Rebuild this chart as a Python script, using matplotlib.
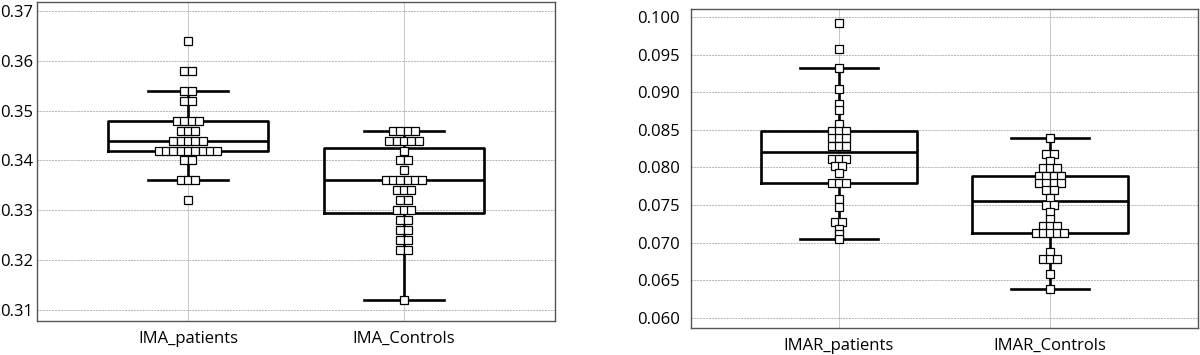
import numpy as np
import matplotlib
matplotlib.use('Agg')
import matplotlib.pyplot as plt
from matplotlib.ticker import FormatStrFormatter

plt.rcParams['font.family'] = ['Open Sans', 'DejaVu Sans']

# values, one entry per square
ima_patients = [0.364, 0.358, 0.358, 0.354, 0.354, 0.352, 0.352,
                0.348, 0.348, 0.348, 0.348, 0.346, 0.346, 0.346,
                0.344, 0.344, 0.344, 0.344, 0.344,
                0.342, 0.342, 0.342, 0.342, 0.342, 0.342, 0.342, 0.342, 0.342,
                0.340, 0.340, 0.336, 0.336, 0.336, 0.332]
ima_controls = [0.346, 0.346, 0.346, 0.346, 0.344, 0.344, 0.344, 0.344, 0.344,
                0.342, 0.340, 0.340, 0.338,
                0.336, 0.336, 0.336, 0.336, 0.336, 0.336,
                0.334, 0.334, 0.334, 0.332, 0.332, 0.330, 0.330, 0.330,
                0.328, 0.328, 0.326, 0.326, 0.324, 0.324, 0.322, 0.322, 0.312]
imar_patients = [0.0992, 0.0957, 0.0932, 0.0904, 0.0885, 0.0876, 0.0858,
                 0.0848, 0.0848, 0.0848, 0.0839, 0.0839, 0.0839,
                 0.0829, 0.0829, 0.0829, 0.0811, 0.0811, 0.0811,
                 0.0802, 0.0802, 0.0793, 0.0779, 0.0779, 0.0779,
                 0.0758, 0.0747, 0.0727, 0.0727, 0.0718, 0.0711, 0.0705]
imar_controls = [0.0839, 0.0818, 0.0818, 0.0809, 0.0799, 0.0799, 0.0799,
                 0.0789, 0.0789, 0.0789, 0.0789, 0.0780, 0.0780, 0.0780, 0.0780,
                 0.0770, 0.0770, 0.0760, 0.0750, 0.0750, 0.0741, 0.0732,
                 0.0722, 0.0722, 0.0722, 0.0713, 0.0713, 0.0713, 0.0713, 0.0713,
                 0.0688, 0.0679, 0.0679, 0.0679, 0.0659, 0.0638]

left_labels = ['IMA_patients', 'IMA_Controls']
right_labels = ['IMAR_patients', 'IMAR_Controls']
left_ticks = [0.31, 0.32, 0.33, 0.34, 0.35, 0.36, 0.37]
right_ticks = [0.060, 0.065, 0.070, 0.075, 0.080, 0.085, 0.090, 0.095, 0.100]


def swarm_offsets(vals, step):
    # put equal values side by side, centred on the category
    vals = np.asarray(vals)
    offs = np.zeros(len(vals))
    for v in np.unique(vals):
        idx = np.where(vals == v)[0]
        offs[idx] = (np.arange(len(idx)) - (len(idx) - 1) / 2) * step
    return offs


def panel(ax, groups, labels, ticks, ylim, fmt, ypad):
    line = dict(color='black', linewidth=1.9)
    ax.boxplot(groups, positions=[0, 1], widths=0.74, capwidths=0.37,
               showfliers=False, whis=1.5,
               boxprops=line, medianprops=line, whiskerprops=line, capprops=line)
    for i, g in enumerate(groups):
        ax.plot(i + swarm_offsets(g, 0.034), g, 's', ms=5.4, mfc='white',
                mec='black', mew=0.9, zorder=5)
    ax.set_xlim(-0.7, 1.7)
    ax.set_ylim(*ylim)
    ax.set_yticks(ticks)
    ax.yaxis.set_major_formatter(FormatStrFormatter(fmt))
    ax.set_xticks([0, 1], labels)
    ax.grid(axis='y', color='#b4b4b4', linestyle=(0, (2, 1)), linewidth=0.7)
    ax.grid(axis='x', color='#c8c8c8', linestyle='-', linewidth=0.7)
    ax.set_axisbelow(True)
    ax.tick_params(axis='both', length=0, labelsize=12)
    ax.tick_params(axis='y', pad=ypad)
    ax.tick_params(axis='x', pad=7)
    for s in ax.spines.values():
        s.set_color('#555555')
        s.set_linewidth(1.0)


fig = plt.figure(figsize=(12, 3.55), dpi=100)
ax1 = fig.add_axes([0.0308, 0.0958, 0.4317, 0.8986])
ax2 = fig.add_axes([0.5758, 0.0761, 0.4225, 0.8986])

panel(ax1, [ima_patients, ima_controls], left_labels, left_ticks,
      (0.3078, 0.3718), '%.2f', 3)
panel(ax2, [imar_patients, imar_controls], right_labels, right_ticks,
      (0.05867, 0.10106), '%.3f', 8)

fig.savefig('out.png', dpi=100)
